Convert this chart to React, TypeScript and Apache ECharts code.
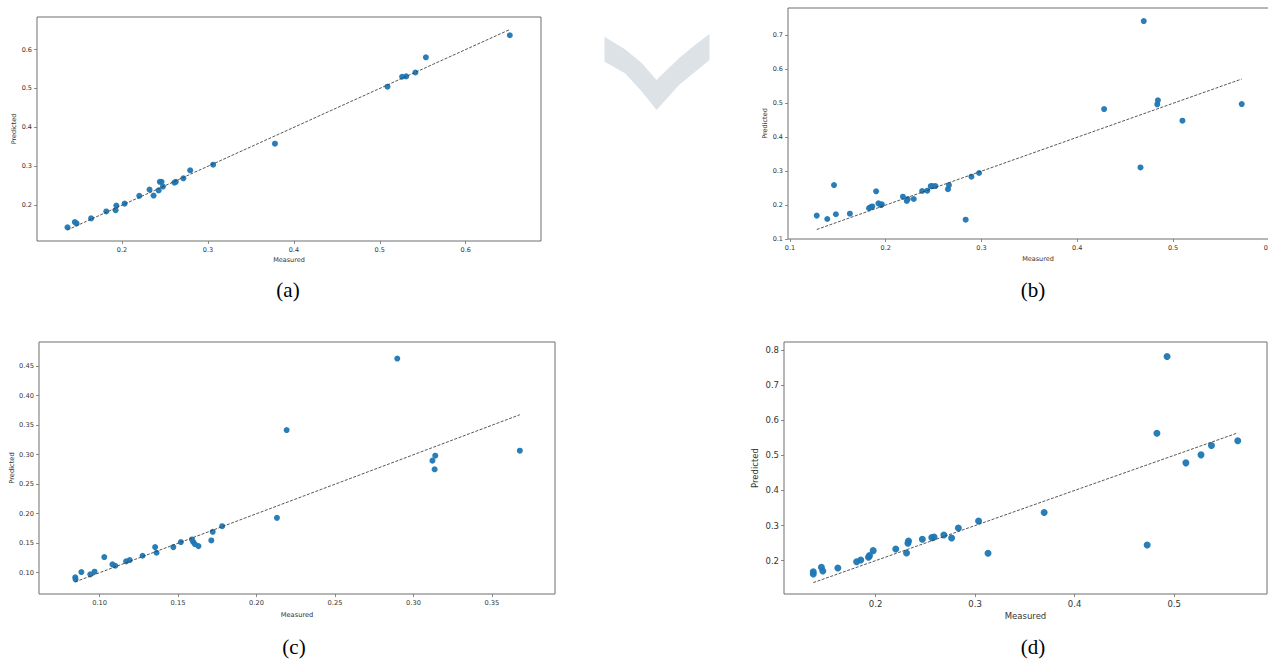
import React, { useEffect, useRef } from "react";
import * as echarts from "echarts";

// ---- data ----
const measuredA = [0.1365, 0.145, 0.147, 0.164, 0.1816, 0.1925, 0.1933, 0.203, 0.22, 0.232, 0.2367, 0.2426, 0.244, 0.246, 0.2476, 0.261, 0.2626, 0.2714, 0.2793, 0.306, 0.378, 0.509, 0.526, 0.5307, 0.5415, 0.5537, 0.6514];
const predictedA = [0.143, 0.1565, 0.153, 0.166, 0.1838, 0.187, 0.199, 0.204, 0.224, 0.24, 0.2247, 0.238, 0.26, 0.26, 0.2478, 0.258, 0.26, 0.269, 0.2896, 0.304, 0.358, 0.5045, 0.53, 0.531, 0.541, 0.58, 0.6367];

const measuredB = [0.128, 0.139, 0.146, 0.148, 0.1626, 0.1826, 0.1844, 0.186, 0.19, 0.1924, 0.195, 0.196, 0.218, 0.222, 0.223, 0.2293, 0.238, 0.2434, 0.247, 0.249, 0.2519, 0.265, 0.266, 0.2835, 0.2895, 0.2975, 0.428, 0.466, 0.4694, 0.4835, 0.4842, 0.5098, 0.5717];
const predictedB = [0.169, 0.159, 0.259, 0.173, 0.1747, 0.191, 0.194, 0.196, 0.2405, 0.205, 0.2, 0.202, 0.2248, 0.212, 0.218, 0.218, 0.2415, 0.2424, 0.256, 0.256, 0.256, 0.247, 0.259, 0.157, 0.2837, 0.2945, 0.483, 0.311, 0.7424, 0.497, 0.5087, 0.4487, 0.4978];

const measuredC = [0.0845, 0.0847, 0.0884, 0.0941, 0.0968, 0.103, 0.1082, 0.11, 0.1169, 0.1192, 0.1274, 0.1354, 0.1363, 0.147, 0.1518, 0.1589, 0.1596, 0.1607, 0.163, 0.1712, 0.1721, 0.1781, 0.213, 0.2192, 0.2897, 0.3121, 0.3139, 0.3135, 0.3678];
const predictedC = [0.0921, 0.0887, 0.1011, 0.0972, 0.1017, 0.1265, 0.1141, 0.1118, 0.1192, 0.1214, 0.1287, 0.1434, 0.1338, 0.1434, 0.1519, 0.1564, 0.1524, 0.1485, 0.1451, 0.1547, 0.1693, 0.1789, 0.193, 0.3418, 0.463, 0.29, 0.2984, 0.2753, 0.3069];

const measuredD = [0.1374, 0.1374, 0.1456, 0.147, 0.1621, 0.181, 0.1851, 0.1929, 0.1939, 0.1976, 0.2203, 0.2311, 0.2325, 0.2331, 0.247, 0.2565, 0.2588, 0.2686, 0.2764, 0.2832, 0.3035, 0.313, 0.3694, 0.4729, 0.4827, 0.4929, 0.5118, 0.527, 0.5375, 0.5639];
const predictedD = [0.1686, 0.162, 0.181, 0.1705, 0.179, 0.197, 0.2019, 0.2095, 0.2143, 0.2285, 0.2333, 0.2219, 0.2494, 0.256, 0.2608, 0.2656, 0.2675, 0.2732, 0.2646, 0.2932, 0.3131, 0.2209, 0.3369, 0.2447, 0.5631, 0.7817, 0.4785, 0.5013, 0.528, 0.5413];

// tick values
const xTicksA = [0.2, 0.3, 0.4, 0.5, 0.6];
const yTicksA = [0.2, 0.3, 0.4, 0.5, 0.6];
const xTicksB = [0.1, 0.2, 0.3, 0.4, 0.5, 0.6];
const yTicksB = [0.1, 0.2, 0.3, 0.4, 0.5, 0.6, 0.7];
const xTicksC = [0.1, 0.15, 0.2, 0.25, 0.3, 0.35];
const yTicksC = [0.1, 0.15, 0.2, 0.25, 0.3, 0.35, 0.4, 0.45];
const xTicksD = [0.2, 0.3, 0.4, 0.5];
const yTicksD = [0.2, 0.3, 0.4, 0.5, 0.6, 0.7, 0.8];
const tickDecimals = [1, 1, 2, 1];

const panelLabels = ["(a)", "(b)", "(c)", "(d)"];
const xTitle = "Measured";
const yTitle = "Predicted";

const xRanges = [[0.101, 0.6877], [0.098, 0.62], [0.0614, 0.3902], [0.108, 0.5933]];
const yRanges = [[0.1079, 0.6836], [0.1, 0.781], [0.0639, 0.4911], [0.105, 0.8228]];

const panels = [
  { m: measuredA, p: predictedA, xt: xTicksA, yt: yTicksA },
  { m: measuredB, p: predictedB, xt: xTicksB, yt: yTicksB },
  { m: measuredC, p: predictedC, xt: xTicksC, yt: yTicksC },
  { m: measuredD, p: predictedD, xt: xTicksD, yt: yTicksD },
];

// layout
const grids = [
  { left: 37, top: 17, width: 504, height: 224 },
  { left: 788, top: 8, width: 500, height: 231 },
  { left: 39, top: 342, width: 516, height: 252 },
  { left: 784, top: 342, width: 483, height: 252 },
];
const fontSizes = [6.5, 6.5, 6.7, 8.5];
const xNameGaps = [15, 16, 17, 17];
const yNameGaps = [19, 18, 23, 25];
const symbolSizes = [6, 6, 6, 7];
const captionPos = [[288, 290], [1033, 290], [294, 647], [1033, 647]];

const FONT = "DejaVu Sans";
const TXT = "#333";
const FRAME = "#6e6e6e";

export default function App() {
  const ref = useRef<HTMLDivElement>(null);

  useEffect(() => {
    if (!ref.current) return;
    const chart = echarts.init(ref.current, undefined, { renderer: "svg" });

    const xAxis: any[] = [];
    const yAxis: any[] = [];
    const series: any[] = [];

    panels.forEach((pn, i) => {
      const fs = fontSizes[i];
      const dec = tickDecimals[i];
      const common = {
        gridIndex: i,
        type: "value",
        splitLine: { show: false },
        axisLine: { show: false },
        nameLocation: "middle",
        nameTextStyle: { fontFamily: FONT, fontSize: fs, color: TXT },
      };
      const label = (vals: number[]) => ({
        fontFamily: FONT,
        fontSize: fs,
        color: TXT,
        margin: 5,
        hideOverlap: false,
        customValues: vals,
        formatter: (v: number) => v.toFixed(dec),
      });
      const tick = (vals: number[]) => ({
        show: true,
        length: 3,
        customValues: vals,
        lineStyle: { color: FRAME, width: 0.8 },
      });
      xAxis.push({
        ...common,
        min: xRanges[i][0],
        max: xRanges[i][1],
        name: xTitle,
        nameGap: xNameGaps[i],
        axisLabel: label(pn.xt),
        axisTick: tick(pn.xt),
      });
      yAxis.push({
        ...common,
        min: yRanges[i][0],
        max: yRanges[i][1],
        name: yTitle,
        nameGap: yNameGaps[i],
        nameRotate: 90,
        axisLabel: label(pn.yt),
        axisTick: tick(pn.yt),
      });
      const pts = pn.m.map((m, k) => [m, pn.p[k]]);
      const lo = Math.min(...pn.m);
      const hi = Math.max(...pn.m);
      series.push({
        type: "scatter",
        xAxisIndex: i,
        yAxisIndex: i,
        data: pts,
        symbolSize: symbolSizes[i],
        itemStyle: { color: "#1f77b4", opacity: 0.95 },
        z: 2,
      });
      series.push({
        type: "line",
        xAxisIndex: i,
        yAxisIndex: i,
        data: [[lo, lo], [hi, hi]],
        symbol: "none",
        lineStyle: { color: "#3a3a3a", width: 1, type: [3, 1.5], opacity: 0.85 },
        z: 3,
      });
    });

    const chevron = [
      [604.5, 36.7], [625, 49.3], [642, 63.3], [656.5, 80], [679, 58.3], [695, 45], [709.5, 34],
      [709.5, 60], [679, 85], [656.5, 110], [642, 91.7], [625, 73.3], [604.5, 61.7],
    ];

    const graphic: any[] = [
      {
        type: "polygon",
        shape: { points: chevron },
        style: { fill: "#dce2e6" },
        silent: true,
      },
      ...panelLabels.map((t, i) => ({
        type: "text",
        x: captionPos[i][0],
        y: captionPos[i][1],
        style: {
          text: t,
          fontFamily: "Liberation Serif",
          fontSize: 21,
          fill: "#000",
          align: "center",
          verticalAlign: "middle",
        },
      })),
    ];

    chart.setOption({
      animation: false,
      backgroundColor: "#fff",
      grid: grids.map((g) => ({
        ...g,
        show: true,
        borderColor: FRAME,
        borderWidth: 1,
        backgroundColor: "transparent",
        containLabel: false,
      })),
      xAxis,
      yAxis,
      series,
      graphic,
    });

    return () => chart.dispose();
  }, []);

  return (
    <div
      ref={ref}
      style={{ position: "fixed", left: 0, top: 0, width: 1300, height: 659, background: "#fff" }}
    />
  );
}
